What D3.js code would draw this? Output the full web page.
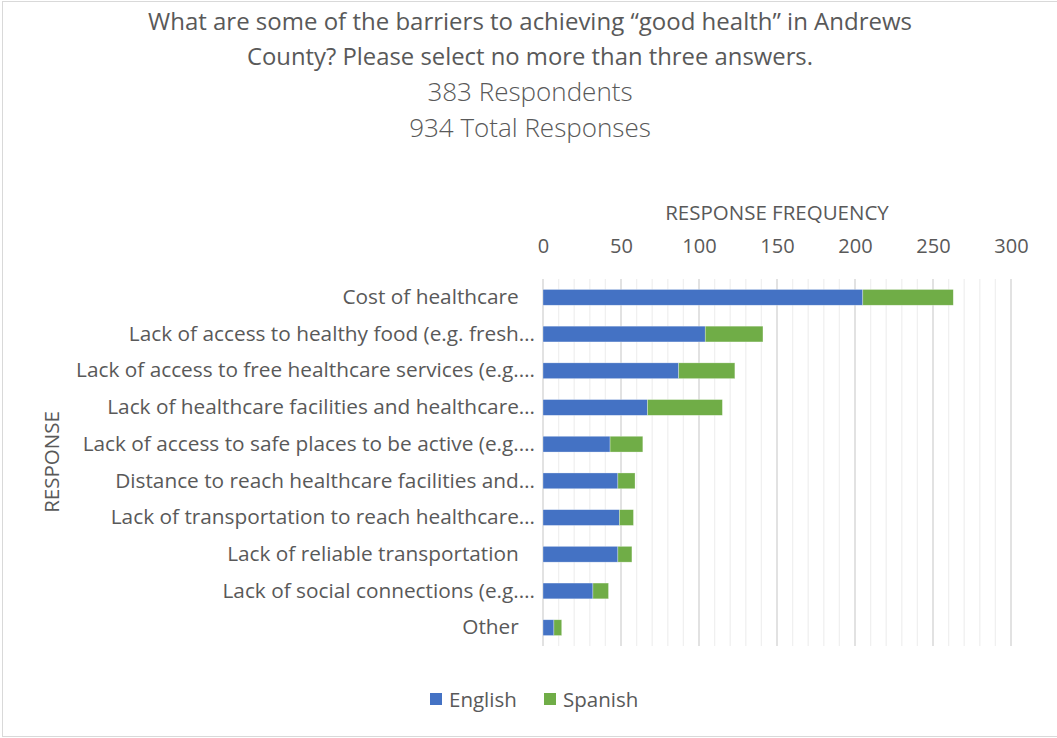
<!DOCTYPE html>
<html><head><meta charset="utf-8">
<script src="https://cdn.jsdelivr.net/npm/d3@7"></script>
<style>body{margin:0;background:#fff}</style>
</head><body><svg id="c" width="1057" height="738"></svg>
<script>
const categories = [
  "Cost of healthcare ",
  "Lack of access to healthy food (e.g. fresh…",
  "Lack of access to free healthcare services (e.g.…",
  "Lack of healthcare facilities and healthcare…",
  "Lack of access to safe places to be active (e.g.…",
  "Distance to reach healthcare facilities and…",
  "Lack of transportation to reach healthcare…",
  "Lack of reliable transportation ",
  "Lack of social connections (e.g.…",
  "Other "
];
const english = [205, 104, 87, 67, 43, 48, 49, 48, 32, 7];
const spanish = [58, 37, 36, 48, 21, 11, 9, 9, 10, 5];
const seriesNames = ["English", "Spanish"];
const seriesColors = ["#4472C4", "#70AD47"];
const xTicks = [0, 50, 100, 150, 200, 250, 300];
const titleLines = ["What are some of the barriers to achieving \u201cgood health\u201d in Andrews", "County? Please select no more than three answers."];
const subtitleLines = ["383 Respondents", "934 Total Responses"];

const svg = d3.select("#c");
const font = "'Open Sans', sans-serif";
const grey = "#595959";

svg.append("rect").attr("x", 2.5).attr("y", 1.5).attr("width", 1070).attr("height", 735)
  .attr("fill", "none").attr("stroke", "#d9d9d9").attr("stroke-width", 1);

const m = {left: 543, right: 1011, top: 279, bottom: 646};
const x = d3.scaleLinear().domain([0, 300]).range([m.left, m.right]);
const y = d3.scaleBand().domain(categories).range([m.top, m.bottom]).paddingInner(0.57).paddingOuter(0.285);

// gridlines
const g = svg.append("g");
g.selectAll("line").data(d3.range(0, 301, 10)).join("line")
  .attr("x1", d => x(d)).attr("x2", d => x(d)).attr("y1", m.top).attr("y2", m.bottom)
  .attr("stroke", d => d % 50 === 0 ? "#d9d9d9" : "#f0f0f0").attr("stroke-width", d => d % 50 === 0 ? 1.5 : 1.3);

// stacked bars
const stackData = categories.map((c, i) => ({cat: c, English: english[i], Spanish: spanish[i]}));
const stack = d3.stack().keys(seriesNames)(stackData);
svg.append("g").selectAll("g").data(stack).join("g")
  .attr("fill", (d, i) => seriesColors[i])
  .selectAll("rect").data(d => d).join("rect")
  .attr("x", d => x(d[0])).attr("width", d => x(d[1]) - x(d[0]))
  .attr("y", d => y(d.data.cat)).attr("height", y.bandwidth())
  .attr("stroke", "#ffffff").attr("stroke-opacity", 0.5).attr("stroke-width", 0.6);

// x axis (top)
const xa = svg.append("g").attr("transform", `translate(0,${m.top})`)
  .call(d3.axisTop(x).tickValues(xTicks).tickSize(0).tickPadding(26));
xa.select(".domain").remove();
xa.selectAll("text").attr("font-family", font).attr("font-size", 20).attr("fill", grey);

// y axis
const ya = svg.append("g").attr("transform", `translate(${m.left},0)`)
  .call(d3.axisLeft(y).tickSize(0).tickPadding(8).tickFormat(d => d.replace(/ $/, "\u00A0\u00A0\u00A0")));
ya.select(".domain").remove();
ya.selectAll("text").attr("font-family", font).attr("font-size", 20.8).attr("fill", grey);

// axis titles
svg.append("text").attr("x", 777).attr("y", 220).attr("text-anchor", "middle")
  .attr("font-family", font).attr("font-size", 20.5).attr("fill", grey).text("RESPONSE FREQUENCY");
svg.append("text").attr("transform", "translate(59,462) rotate(-90)").attr("text-anchor", "middle")
  .attr("font-family", font).attr("font-size", 20.5).attr("fill", grey).text("RESPONSE");

// title
const tw = [764, 566];
titleLines.forEach((t, i) => {
  svg.append("text").attr("x", 530).attr("y", 30 + i * 35).attr("text-anchor", "middle")
    .attr("font-family", font).attr("font-size", 24).attr("fill", grey)
    .attr("textLength", tw[i]).attr("lengthAdjust", "spacingAndGlyphs").text(t);
});
subtitleLines.forEach((t, i) => {
  svg.append("text").attr("x", 530).attr("y", 101 + i * 36).attr("text-anchor", "middle")
    .attr("font-family", font).attr("font-weight", 300).attr("font-size", 26).attr("fill", grey).text(t);
});

// legend
const lx = [430, 544];
seriesNames.forEach((s, i) => {
  svg.append("rect").attr("x", lx[i]).attr("y", 693).attr("width", 12).attr("height", 12).attr("fill", seriesColors[i]);
  svg.append("text").attr("x", lx[i] + 19).attr("y", 707).attr("font-family", font)
    .attr("font-size", 20.5).attr("fill", grey).text(s);
});
</script></body></html>
